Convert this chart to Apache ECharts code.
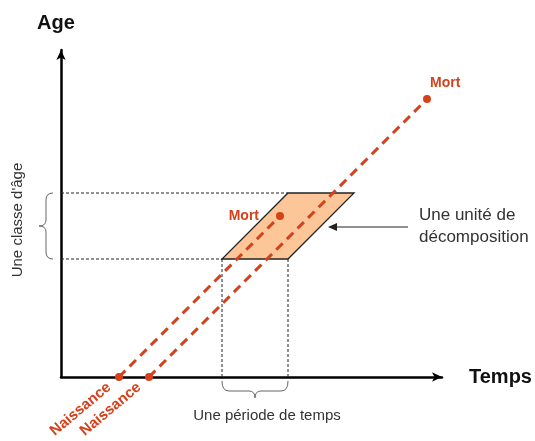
<!DOCTYPE html>
<html>
<head>
<meta charset="utf-8">
<script src="https://cdn.jsdelivr.net/npm/echarts@6/dist/echarts.min.js"></script>
<style>html,body{margin:0;padding:0;background:#fff;}#c{width:535px;height:441px;}</style>
</head>
<body>
<div id="c"></div>
<script>
// Lexis diagram values (time, age)
const ageClass = [11.8, 18.4];      // bounds of the age class
const period = [16.1, 22.7];        // bounds of the time period
const births = [5.8, 8.8];          // birth times (age 0)
const deaths = [[21.9, 16.1], [36.6, 27.8]]; // [time, age] at death
const axisMax = { time: 38.1, age: 32.7 };

const FONT = "'Liberation Sans', Arial, sans-serif";
const RED = '#d4421b';

const chart = echarts.init(document.getElementById('c'), null, { renderer: 'canvas' });

const d = ageClass[1] - ageClass[0];
const corners = [[period[0], ageClass[0]], [period[1], ageClass[0]], [period[1] + d, ageClass[1]], [period[0] + d, ageClass[1]]];

const guideStyle = { color: '#222', width: 1, type: [3, 2] };
const guides = [
  [[0, ageClass[0]], [period[0], ageClass[0]]],
  [[0, ageClass[1]], [period[0] + d, ageClass[1]]],
  [[period[0], 0], [period[0], ageClass[0]]],
  [[period[1], 0], [period[1], ageClass[0]]]
];

const series = [];
guides.forEach(g => series.push({
  type: 'line', data: g, symbol: 'none', silent: true, z: 2,
  lineStyle: guideStyle
}));

series.push({
  type: 'custom', z: 1, silent: true, data: [[0]],
  renderItem: (params, api) => ({
    type: 'polygon',
    shape: { points: corners.map(c => api.coord(c)) },
    style: { fill: '#fcc698', stroke: '#222', lineWidth: 1.3 }
  })
});

births.forEach((b, i) => {
  const dpt = deaths[i];
  const mortLabel = i === 0
    ? { show: true, formatter: 'Mort', position: [-17, 4], align: 'right', verticalAlign: 'middle' }
    : { show: true, formatter: 'Mort', position: [7, -12], align: 'left', verticalAlign: 'middle' };
  series.push({
    type: 'line', z: 3,
    data: [
      { value: [b, 0], label: { show: true, formatter: 'Naissance', fontSize: 15, position: 'inside', align: 'right', verticalAlign: 'middle', rotate: 40, padding: [18, 13, 0, 0] } },
      { value: dpt, label: mortLabel }
    ],
    symbol: 'circle', symbolSize: 8, showSymbol: true,
    itemStyle: { color: RED },
    lineStyle: { color: RED, width: 3, type: [9, 6] },
    label: { color: RED, fontFamily: FONT, fontWeight: 'bold', fontSize: 14 }
  });
});

// annotations: braces, arrow, texts, anchored on the data
series.push({
  type: 'custom', z: 4, silent: true, data: [[0]],
  renderItem: (params, api) => {
    const top = api.coord([0, ageClass[1]]);
    const bot = api.coord([0, ageClass[0]]);
    const xb = top[0] - 15;
    const ym = (top[1] + bot[1]) / 2;
    const leftBrace = `M${xb + 7},${top[1]} Q${xb},${top[1]} ${xb},${top[1] + 7} L${xb},${ym - 6} Q${xb},${ym} ${xb - 7},${ym} Q${xb},${ym} ${xb},${ym + 6} L${xb},${bot[1] - 7} Q${xb},${bot[1]} ${xb + 7},${bot[1]}`;
    const pl = api.coord([period[0], 0]);
    const pr = api.coord([period[1], 0]);
    const yb = pl[1] + 14;
    const xm = (pl[0] + pr[0]) / 2;
    const botBrace = `M${pl[0]},${pl[1] + 4} Q${pl[0]},${yb} ${pl[0] + 7},${yb} L${xm - 6},${yb} Q${xm},${yb} ${xm},${yb + 7} Q${xm},${yb} ${xm + 6},${yb} L${pr[0] - 7},${yb} Q${pr[0]},${yb} ${pr[0]},${pl[1] + 4}`;
    // arrow pointing at the right edge of the unit
    const midAge = (ageClass[0] + ageClass[1]) / 2;
    const edge = api.coord([period[1] + (midAge - ageClass[0]), midAge]);
    const tipX = edge[0] + 7, ay = edge[1] + 1;
    const tailX = tipX + 80;
    const braceStyle = { stroke: '#666', lineWidth: 1, fill: null };
    const textStyle = { fontFamily: FONT, fontSize: 15, fill: '#333' };
    return {
      type: 'group',
      children: [
        { type: 'path', shape: { pathData: leftBrace }, style: braceStyle },
        { type: 'path', shape: { pathData: botBrace }, style: braceStyle },
        { type: 'line', shape: { x1: tailX, y1: ay, x2: tipX + 7, y2: ay }, style: { stroke: '#222', lineWidth: 1 } },
        { type: 'polygon', shape: { points: [[tipX, ay], [tipX + 9, ay - 4], [tipX + 9, ay + 4]] }, style: { fill: '#222' } },
        { type: 'text', x: tailX + 11, y: ay - 12, style: Object.assign({}, textStyle, { text: 'Une unité de', fontSize: 17, textAlign: 'left', textVerticalAlign: 'middle' }) },
        { type: 'text', x: tailX + 11, y: ay + 10, style: Object.assign({}, textStyle, { text: 'décomposition', fontSize: 17, textAlign: 'left', textVerticalAlign: 'middle' }) },
        { type: 'text', x: xm + 12, y: yb + 25, style: Object.assign({}, textStyle, { text: 'Une période de temps', textAlign: 'center', textVerticalAlign: 'middle' }) },
        { type: 'text', x: top[0] - 43, y: ym - 6, rotation: Math.PI / 2, style: Object.assign({}, textStyle, { text: "Une classe d'âge", textAlign: 'center', textVerticalAlign: 'middle' }) }
      ]
    };
  }
});

const axisCommon = {
  type: 'value', min: 0,
  axisTick: { show: false }, axisLabel: { show: false }, splitLine: { show: false },
  axisLine: { show: true, onZero: false, symbol: ['none', 'arrow'], symbolSize: [7, 10], lineStyle: { color: '#000', width: 2.5 } },
  nameTextStyle: { fontFamily: FONT, fontWeight: 'bold', fontSize: 20, color: '#111' }
};

chart.setOption({
  backgroundColor: '#fff',
  animation: false,
  grid: { left: 61, top: 50, width: 381, height: 327 },
  xAxis: Object.assign({}, axisCommon, { max: axisMax.time, name: 'Temps', nameLocation: 'end', nameGap: 27 }),
  yAxis: Object.assign({}, axisCommon, { max: axisMax.age, name: 'Age', nameLocation: 'end', nameGap: 17,
    nameTextStyle: Object.assign({}, axisCommon.nameTextStyle, { padding: [0, 10, 0, 0] }) }),
  series: series
});
</script>
</body>
</html>
